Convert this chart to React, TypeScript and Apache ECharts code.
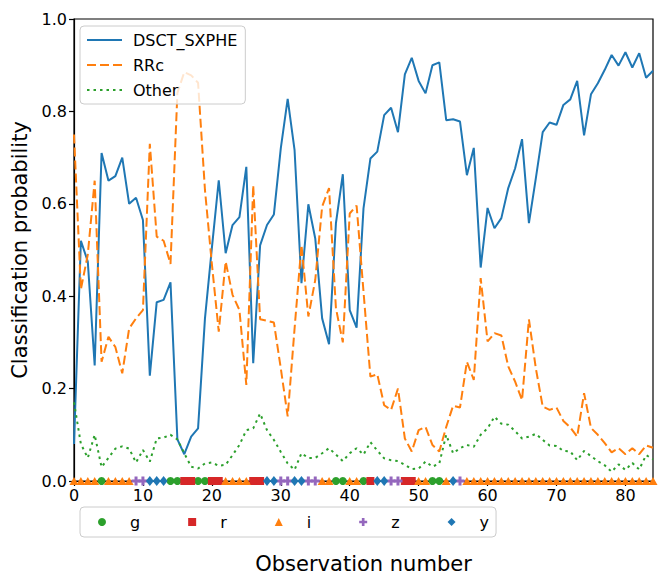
import React, { useEffect, useRef } from "react";
import * as echarts from "echarts";

const dsct = [
  0.08, 0.52, 0.475, 0.25, 0.71, 0.65, 0.66, 0.70, 0.60, 0.613,
  0.565, 0.228, 0.387, 0.392, 0.43, 0.09, 0.058, 0.096, 0.114, 0.352,
  0.504, 0.651, 0.493, 0.554, 0.571, 0.68, 0.255, 0.51, 0.554, 0.577,
  0.72, 0.827, 0.716, 0.428, 0.599, 0.525, 0.352, 0.296, 0.558, 0.664,
  0.37, 0.332, 0.59, 0.698, 0.713, 0.792, 0.808, 0.755, 0.88, 0.916,
  0.866, 0.839, 0.90, 0.906, 0.781, 0.783, 0.778, 0.662, 0.721, 0.462,
  0.591, 0.547, 0.569, 0.634, 0.677, 0.74, 0.558, 0.655, 0.755, 0.776,
  0.771, 0.814, 0.826, 0.866, 0.748, 0.837, 0.861, 0.89, 0.922, 0.899,
  0.928, 0.895, 0.926, 0.873, 0.888,
];

const rrc = [
  0.75, 0.415, 0.49, 0.65, 0.258, 0.312, 0.29, 0.233, 0.33, 0.352,
  0.37, 0.73, 0.529, 0.52, 0.47, 0.84, 0.885, 0.878, 0.862, 0.63,
  0.47, 0.323, 0.475, 0.403, 0.37, 0.208, 0.64, 0.35, 0.347, 0.343,
  0.244, 0.14, 0.33, 0.511, 0.356, 0.435, 0.594, 0.634, 0.374, 0.30,
  0.579, 0.596, 0.41, 0.226, 0.231, 0.164, 0.154, 0.20, 0.092, 0.064,
  0.11, 0.117, 0.078, 0.064, 0.117, 0.163, 0.159, 0.258, 0.219, 0.439,
  0.302, 0.32, 0.315, 0.248, 0.215, 0.175, 0.35, 0.244, 0.161, 0.154,
  0.159, 0.13, 0.116, 0.096, 0.19, 0.115, 0.10, 0.082, 0.062, 0.071,
  0.058, 0.071, 0.058, 0.077, 0.072,
];

const other = [
  0.17, 0.08, 0.05, 0.10, 0.03, 0.05, 0.07, 0.075, 0.07, 0.04,
  0.067, 0.042, 0.092, 0.094, 0.10, 0.09, 0.06, 0.031, 0.027, 0.038,
  0.04, 0.033, 0.035, 0.056, 0.078, 0.11, 0.114, 0.146, 0.11, 0.089,
  0.063, 0.038, 0.024, 0.06, 0.05, 0.05, 0.06, 0.071, 0.057, 0.043,
  0.06, 0.071, 0.057, 0.084, 0.066, 0.049, 0.045, 0.043, 0.035, 0.026,
  0.027, 0.042, 0.031, 0.038, 0.10, 0.06, 0.071, 0.078, 0.074, 0.10,
  0.114, 0.139, 0.124, 0.122, 0.108, 0.092, 0.096, 0.102, 0.089, 0.077,
  0.076, 0.065, 0.064, 0.045, 0.065, 0.054, 0.043, 0.034, 0.020, 0.036,
  0.024, 0.039, 0.025, 0.056, 0.047,
];

// photometric band of each observation
const bands = [
  "i", "i", "i", "i", "g", "i", "i", "i", "i", "z",
  "z", "y", "y", "y", "g", "g", "r", "r", "g", "g",
  "r", "r", "i", "i", "i", "i", "r", "r", "y", "y",
  "z", "z", "y", "y", "z", "z", "i", "i", "g", "g",
  "i", "i", "g", "r", "y", "y", "z", "z", "r", "r",
  "i", "i", "g", "g", "i", "y", "z", "i", "i", "i",
  "i", "i", "i", "i", "i", "i", "i", "i", "i", "i",
  "i", "i", "i", "i", "i", "i", "i", "i", "i", "i",
  "i", "i", "i", "i", "i",
];

const bandNames = ["g", "r", "i", "z", "y"];
const bandColors: Record<string, string> = {
  g: "#2ca02c",
  r: "#d62728",
  i: "#ff7f0e",
  z: "#9467bd",
  y: "#1f77b4",
};
const plusPath = "path://M3,0H6V3H9V6H6V9H3V6H0V3H3Z";
const bandSymbols: Record<string, string> = {
  g: "circle",
  r: "rect",
  i: "triangle",
  z: plusPath,
  y: "diamond",
};
const bandSizes: Record<string, number[]> = {
  g: [8, 8],
  r: [8, 8],
  i: [9, 8],
  z: [9, 9],
  y: [8, 10],
};

const xTicks = [0, 10, 20, 30, 40, 50, 60, 70, 80];
const yTicks = [0, 0.2, 0.4, 0.6, 0.8, 1.0];

const lineNames = ["DSCT_SXPHE", "RRc", "Other"];
const lineColors = ["#1f77b4", "#ff7f0e", "#2ca02c"];
const lineDash: any[] = ["solid", [9, 4], [2.5, 4]];
const lineLegendIcons = [
  "path://M0,0H35V2H0Z",
  "path://M0,0H9V2H0Z M13,0H22V2H13Z M26,0H35V2H26Z",
  "path://M0,0H2.5V2H0Z M6.5,0H9V2H6.5Z M13,0H15.5V2H13Z M19.5,0H22V2H19.5Z M26,0H28.5V2H26Z M32.5,0H35V2H32.5Z",
];

const FONT = "DejaVu Sans";

export default function App() {
  const ref = useRef<HTMLDivElement>(null);
  useEffect(() => {
    if (!ref.current) return;
    const chart = echarts.init(ref.current, null, { renderer: "svg" });
    const idx = dsct.map((_, i) => i);
    const lineData = [dsct, rrc, other];
    const lineSeries = lineNames.map((name, k) => ({
      type: "line",
      name,
      data: lineData[k].map((v, i) => [idx[i], v]),
      symbol: "none",
      showSymbol: false,
      color: lineColors[k],
      lineStyle: { width: 2, color: lineColors[k], type: lineDash[k] },
      z: 2,
    }));
    const scatterSeries = bandNames.map((b) => ({
      type: "scatter",
      name: b,
      symbol: bandSymbols[b],
      symbolSize: bandSizes[b],
      symbolKeepAspect: true,
      color: bandColors[b],
      itemStyle: { color: bandColors[b], opacity: 1 },
      data: bands
        .map((bb, i) => (bb === b ? [idx[i], 0] : null))
        .filter((d) => d !== null),
      clip: false,
      z: 5,
    }));
    chart.setOption({
      animation: false,
      textStyle: { fontFamily: FONT },
      grid: {
        left: 74,
        right: 6,
        top: 19,
        bottom: 93,
        outerBoundsMode: "none",
        containLabel: false,
        show: true,
        borderColor: "#000",
        borderWidth: 1.2,
        backgroundColor: "transparent",
      },
      legend: [
        {
          data: lineNames.map((n, k) => ({ name: n, icon: lineLegendIcons[k] })),
          orient: "vertical",
          left: 80,
          top: 26,
          itemWidth: 35,
          itemHeight: 14,
          itemGap: 9,
          symbolKeepAspect: true,
          padding: [6, 8, 6, 7],
          backgroundColor: "rgba(255,255,255,0.8)",
          borderColor: "#cccccc",
          borderWidth: 1,
          borderRadius: 4,
          textStyle: {
            fontFamily: FONT,
            fontSize: 16,
            color: "#000",
            padding: [0, 0, 0, 6],
          },
        },
        {
          data: bandNames,
          orient: "horizontal",
          left: 80,
          top: 507,
          itemWidth: 8,
          itemHeight: 8,
          itemGap: 48,
          symbolKeepAspect: true,
          padding: [7, 7, 7, 18],
          backgroundColor: "rgba(255,255,255,0.8)",
          borderColor: "#cccccc",
          borderWidth: 1,
          borderRadius: 4,
          textStyle: {
            fontFamily: FONT,
            fontSize: 16,
            color: "#000",
            padding: [0, 0, 0, 19],
          },
        },
      ],
      xAxis: {
        type: "value",
        min: 0,
        max: 84,
        interval: 10,
        name: "Observation number",
        nameLocation: "middle",
        nameGap: 72,
        nameTextStyle: { fontFamily: FONT, fontSize: 21, color: "#000" },
        axisLine: { show: true, onZero: false, lineStyle: { color: "#000", width: 1.2 } },
        axisTick: {
          show: true,
          length: 5,
          inside: false,
          lineStyle: { color: "#000", width: 1.2 },
          customValues: xTicks,
        },
        axisLabel: {
          fontFamily: FONT,
          fontSize: 16,
          color: "#000",
          margin: 6,
          customValues: xTicks,
        },
        splitLine: { show: false },
      },
      yAxis: {
        type: "value",
        min: 0,
        max: 1,
        interval: 0.2,
        name: "Classification probability",
        nameLocation: "middle",
        nameGap: 43,
        nameTextStyle: { fontFamily: FONT, fontSize: 21, color: "#000" },
        axisLine: { show: true, lineStyle: { color: "#000", width: 1.2 } },
        axisTick: {
          show: true,
          length: 5,
          inside: false,
          lineStyle: { color: "#000", width: 1.2 },
          customValues: yTicks,
        },
        axisLabel: {
          fontFamily: FONT,
          fontSize: 16,
          color: "#000",
          margin: 7,
          customValues: yTicks,
          formatter: (v: number) => v.toFixed(1),
        },
        splitLine: { show: false },
      },
      series: [...lineSeries, ...scatterSeries],
    } as any);
    return () => chart.dispose();
  }, []);
  return (
    <div
      ref={ref}
      style={{ position: "fixed", left: 0, top: 0, width: 659, height: 574, background: "#fff" }}
    />
  );
}
